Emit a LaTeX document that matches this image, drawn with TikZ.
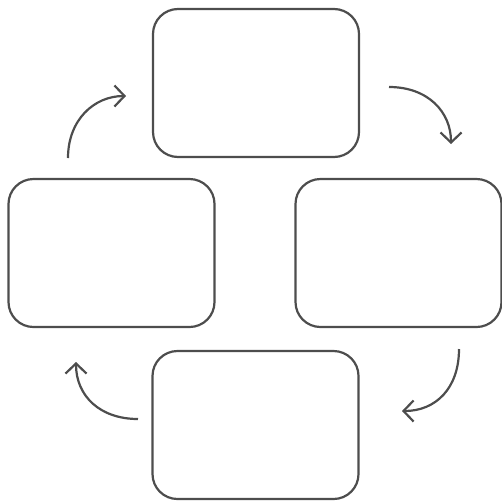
\documentclass[tikz,border=0pt]{standalone}
\usetikzlibrary{arrows.meta}
\definecolor{ink}{RGB}{77,77,77}
\begin{document}
\begin{tikzpicture}[x=1pt,y=-1pt,
  stagebox/.style={draw=ink,line width=2.2pt,rounded corners=25pt,minimum width=206pt,minimum height=148pt,inner sep=0pt,outer sep=0pt,fill=white},
  cyclearrow/.style={draw=ink,line width=2.2pt,-{Straight Barb[length=10pt,width=21pt]}}]
\useasboundingbox (0,0) rectangle (502,501);
\node[stagebox] (top) at (256,83) {};
\node[stagebox] (left) at (111.5,253) {};
\node[stagebox] (right) at (398.5,253) {};
\node[stagebox] (bottom) at (255.5,425) {};
\coordinate (a1s) at (389,87);
\coordinate (a1e) at (451,144);
\coordinate (a2s) at (68,158);
\coordinate (a2e) at (126,96);
\coordinate (a3s) at (459,349);
\coordinate (a3e) at (402,411);
\coordinate (a4s) at (138,419);
\coordinate (a4e) at (76,362);
\draw[cyclearrow] (a1s) .. controls (428,87) and (451,112) .. (a1e);
\draw[cyclearrow] (a2s) .. controls (68,120) and (94,96) .. (a2e);
\draw[cyclearrow] (a3s) .. controls (459,388) and (436,411) .. (a3e);
\draw[cyclearrow] (a4s) .. controls (100,419) and (76,396) .. (a4e);
\end{tikzpicture}
\end{document}
